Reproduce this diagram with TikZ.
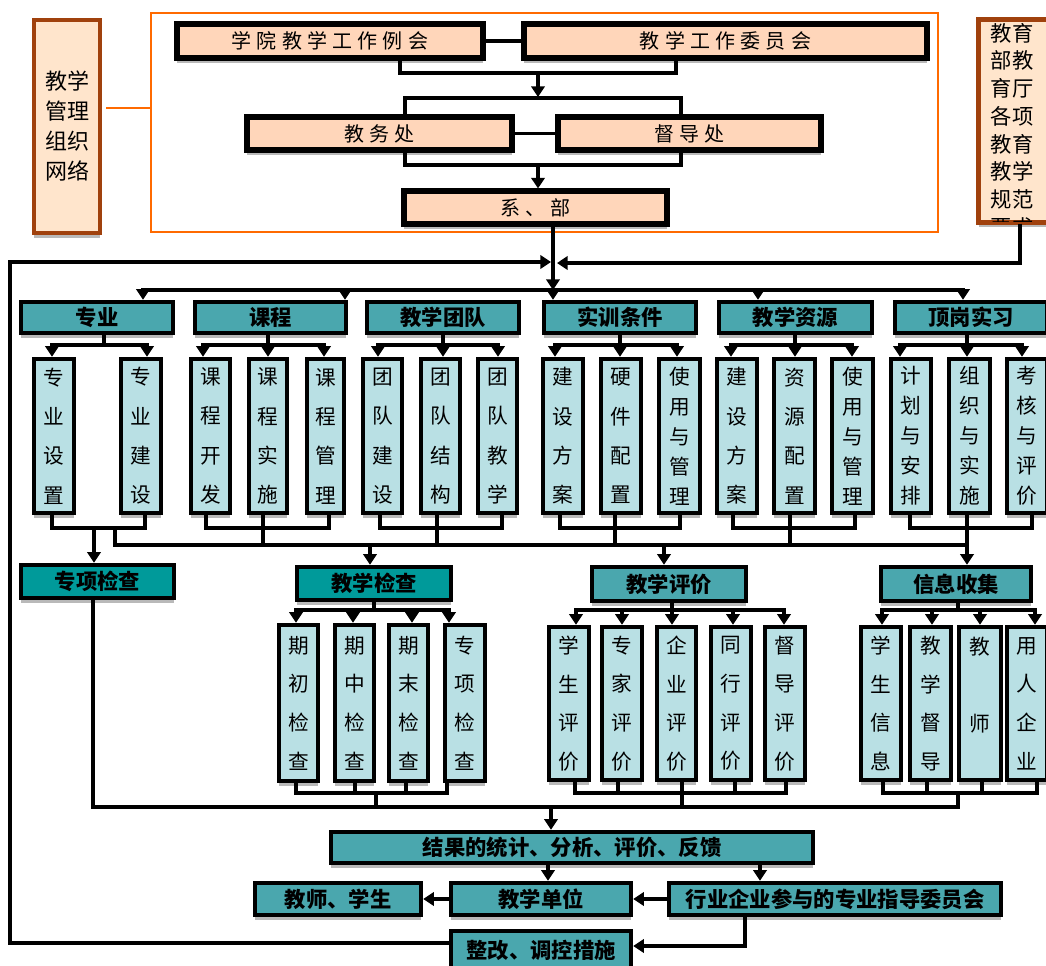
\documentclass[tikz,border=0pt]{standalone}
\usepackage{fontspec}
\setmainfont{Noto Sans CJK SC}
\newfontfamily\spfont{Noto Sans CJK SC}[LetterSpace=26]
\usetikzlibrary{arrows.meta,shadows}
\definecolor{peach}{HTML}{FFD6BA}
\definecolor{cream}{HTML}{FFE5CC}
\definecolor{brownb}{HTML}{A0410D}
\definecolor{orangeb}{HTML}{FF6A00}
\definecolor{tealh}{HTML}{4AA7AE}
\definecolor{tealk}{HTML}{009A9A}
\definecolor{tealsub}{HTML}{B9E0E4}
\newcommand\mkbox[7]{\node[#6,minimum width={(#4-#2-4)*0.75pt},minimum height={(#5-#3-4)*0.75pt},inner sep=0pt] (#1) at ({(#2+#4)/2},{(#3+#5)/2}) {#7};}
\newcommand\low[1]{\raisebox{-2.5pt}{#1}}
\tikzset{
  shad/.style={drop shadow={shadow xshift=0pt,shadow yshift=-3.8pt,fill=gray!55,opacity=1}},
  conn/.style={draw=black,line width=2.8pt,line cap=rect},
  arr/.style={draw=black,line width=2.8pt,-{Triangle[width=10pt,length=8pt]}},
  orline/.style={draw=orangeb,line width=1.7pt},
  orframe/.style={draw=orangeb,line width=1.7pt},
  brownbox/.style={draw=brownb,line width=2.6pt,fill=cream,shad,align=center,font=\fontsize{16.5}{22.5}\selectfont},
  peachbox/.style={draw=black,line width=3.8pt,fill=peach,shad,font=\spfont\fontsize{15}{18}\selectfont},
  hdr/.style={draw=black,line width=3.3pt,fill=tealh,shad,font=\bfseries\fontsize{16}{18}\selectfont},
  hdrk/.style={hdr,fill=tealk},
  sub4/.style={draw=black,line width=3.3pt,fill=tealsub,shad,align=center,font=\fontsize{15.5}{29.5}\selectfont},
  sub5/.style={sub4,font=\fontsize{15.5}{22.5}\selectfont},
  subb/.style={sub4,font=\fontsize{15.5}{29}\selectfont},
}
\begin{document}
\begin{tikzpicture}[x=0.75pt,y=-0.75pt]
\useasboundingbox (0,0) rectangle (1046,965);
% ---------- top organisation ----------
\mkbox{L}{32}{18}{102}{235}{brownbox}{教学\\管理\\组织\\网络}
\mkbox{O}{149}{11}{940}{234}{orframe}{}
\coordinate (ol) at (106,108);
\draw[orline] (ol) -- (ol -| O.west);
\mkbox{A}{175}{22}{485}{60}{peachbox}{\low{学院教学工作例会}}
\mkbox{B}{522}{22}{929}{60}{peachbox}{\low{教学工作委员会}}
\draw[conn] (A.east) -- (B.west);
\coordinate (m1) at (400,73); \coordinate (m2) at (676,73); \coordinate (m3) at (538,73); \coordinate (m4) at (538,97);
\draw[conn] (A.south -| m1) -- (m1) -- (m2) -- (B.south -| m2);
\draw[arr] (m3) -- (m4);
\mkbox{D}{245}{115}{514}{152}{peachbox}{\low{教务处}}
\mkbox{E}{556}{115}{823}{152}{peachbox}{\low{督导处}}
\draw[conn] (D.east) -- (E.west);
\coordinate (n1) at (405,98); \coordinate (n2) at (681,98);
\draw[conn] (D.north -| n1) -- (n1) -- (n2) -- (E.north -| n2);
\mkbox{F}{402}{189}{669}{226}{peachbox}{\low{系、部}}
\coordinate (p1) at (405,165); \coordinate (p2) at (681,165); \coordinate (p3) at (538,165);
\draw[conn] (D.south -| p1) -- (p1) -- (p2) -- (E.south -| p2);
\draw[arr] (p3) -- (p3 |- F.north);
\mkbox{R}{977}{18}{1062}{224}{brownbox}{}
\path[path picture={\node[inner sep=0pt,align=center,font=\fontsize{16}{20.8}\selectfont] at ([xshift=-5.6pt,yshift=-6.75pt]path picture bounding box.center) {教育\\部教\\育厅\\各项\\教育\\教学\\规范\\要求};}] (R.north west) rectangle (R.south east);
\draw[draw=brownb,line width=2.6pt] (R.north west) rectangle (R.south east);
% feedback lines into the main bus
\coordinate (r1) at (1020,263); \coordinate (r2) at (557,263);
\draw[arr] (R.south -| r1) -- (r1) -- (r2);
\coordinate (f1) at (553,290);
\draw[arr] (F.south -| f1) -- (f1);
% ---------- main bus and headers ----------
\coordinate (bL) at (143,290); \coordinate (bR) at (963,290);
\draw[conn] (bL) -- (bR);
\mkbox{H1}{19}{300}{175}{335}{hdr}{\low{专业}}
\mkbox{H2}{193}{300}{348}{335}{hdr}{\low{课程}}
\mkbox{H3}{365}{300}{521}{335}{hdr}{\low{教学团队}}
\mkbox{H4}{542}{300}{698}{335}{hdr}{\low{实训条件}}
\mkbox{H5}{717}{300}{874}{335}{hdr}{\low{教学资源}}
\mkbox{H6}{893}{300}{1049}{335}{hdr}{\low{顶岗实习}}
\foreach \x/\h in {143/H1,345/H2,553/H4,758/H5,963/H6}{
  \coordinate (t) at (\x,290);
  \draw[arr] (t) -- (t |- \h.north);
}
\foreach \g/\m/\l/\r in {1/104/52/147,2/268/203/324,3/443/378/498,4/620/555/677,5/795/731/852,6/967/900/1022}{
  \coordinate (gm) at (\m,345); \coordinate (gl) at (\l,345); \coordinate (gr) at (\r,345);
  \draw[conn] (H\g.south -| gm) -- (gm);
  \draw[conn] (gl) -- (gr);
}
% ---------- sub boxes (upper) ----------
\foreach \n/\a/\b/\ax/\bb/\t in {
  s11/32/76/52/52/{专\\业\\设\\置},
  s12/119/163/147/145/{专\\业\\建\\设},
  s21/189/232/203/206/{课\\程\\开\\发},
  s22/247/289/268/263/{课\\程\\实\\施},
  s23/305/346/324/329/{课\\程\\管\\理},
  s31/361/404/378/380/{团\\队\\建\\设},
  s32/419/462/443/437/{团\\队\\结\\构},
  s33/476/519/498/502/{团\\队\\教\\学},
  s41/541/585/555/560/{建\\设\\方\\案},
  s42/599/643/620/615/{硬\\件\\配\\置},
  s51/715/759/731/733/{建\\设\\方\\案},
  s52/772/817/795/790/{资\\源\\配\\置}}{
  \mkbox{\n}{\a}{357}{\b}{515}{sub4}{\t}
  \coordinate (ta) at (\ax,345); \draw[arr] (ta) -- (ta |- \n.north);
  \coordinate (tb) at (\bb,528); \draw[conn] (\n.south -| tb) -- (tb);
}
\foreach \n/\a/\b/\ax/\bb/\t in {
  s43/657/702/677/680/{使\\用\\与\\管\\理},
  s53/830/875/852/855/{使\\用\\与\\管\\理},
  s61/889/933/900/910/{计\\划\\与\\安\\排},
  s62/947/992/967/967/{组\\织\\与\\实\\施},
  s63/1005/1049/1022/1032/{考\\核\\与\\评\\价}}{
  \mkbox{\n}{\a}{357}{\b}{515}{sub5}{\t}
  \coordinate (ta) at (\ax,345); \draw[arr] (ta) -- (ta |- \n.north);
  \coordinate (tb) at (\bb,528); \draw[conn] (\n.south -| tb) -- (tb);
}
\foreach \l/\r/\d in {52/145/115,206/329/263,380/502/437,560/680/615,733/855/790,910/1032/967}{
  \coordinate (bl) at (\l,528); \coordinate (br) at (\r,528); \coordinate (bd) at (\d,545);
  \draw[conn] (bl) -- (br);
  \draw[conn] (bl -| bd) -- (bd);
}
\coordinate (BB1) at (115,545); \coordinate (BB2) at (967,545);
\draw[conn] (BB1) -- (BB2);
% ---------- second level ----------
\mkbox{K1}{19}{563}{176}{600}{hdrk}{\low{专项检查}}
\mkbox{K2}{295}{565}{453}{602}{hdrk}{\low{教学检查}}
\mkbox{K3}{590}{565}{748}{603}{hdr}{\low{教学评价}}
\mkbox{K4}{879}{565}{1033}{603}{hdr}{\low{信息收集}}
\coordinate (zk) at (94,528);
\draw[arr] (zk) -- (zk |- K1.north);
\foreach \x/\k in {370/K2,664/K3,967/K4}{
  \coordinate (t) at (\x,545);
  \draw[arr] (t) -- (t |- \k.north);
}
\foreach \k/\m/\l/\r in {K2/374/296/449,K3/672/576/784,K4/958/882/1035}{
  \coordinate (gm) at (\m,610); \coordinate (gl) at (\l,610); \coordinate (gr) at (\r,610);
  \draw[conn] (\k.south -| gm) -- (gm);
  \draw[conn] (gl) -- (gr);
}
\foreach \n/\a/\b/\ax/\bb/\yt/\yb/\t in {
  c1/277/320/296/296/623/783/{期\\初\\检\\查},
  c2/333/376/353/355/623/783/{期\\中\\检\\查},
  c3/387/430/412/406/623/783/{期\\末\\检\\查},
  c4/443/487/449/447/623/783/{专\\项\\检\\查},
  e1/547/591/576/575/625/782/{学\\生\\评\\价},
  e2/600/644/622/618/625/782/{专\\家\\评\\价},
  e3/655/698/672/682/625/782/{企\\业\\评\\价},
  e4/709/753/733/735/625/782/{同\\行\\评\\价},
  e5/763/807/784/786/625/782/{督\\导\\评\\价},
  i1/859/903/882/883/625/782/{学\\生\\信\\息},
  i2/908/953/932/927/625/782/{教\\学\\督\\导},
  i3/957/1003/980/982/625/782/{教\\[29pt]师\\\mbox{}},
  i4/1005/1049/1035/1037/625/782/{用\\人\\企\\业}}{
  \mkbox{\n}{\a}{\yt}{\b}{\yb}{subb}{\t}
  \coordinate (ta) at (\ax,610); \draw[arr] (ta) -- (ta |- \n.north);
  \coordinate (tb) at (\bb,793); \draw[conn] (\n.south -| tb) -- (tb);
}
\foreach \l/\r/\d in {296/447/376,575/786/682,883/1037/958}{
  \coordinate (bl) at (\l,793); \coordinate (br) at (\r,793); \coordinate (bd) at (\d,807);
  \draw[conn] (bl) -- (br);
  \draw[conn] (bl -| bd) -- (bd);
}
\coordinate (k1d) at (93,807); \coordinate (BC2) at (958,807);
\draw[conn] (K1.south -| k1d) -- (k1d) -- (BC2);
% ---------- results and feedback ----------
\mkbox{M}{329}{830}{815}{865}{hdr}{\low{结果的统计、分析、评价、反馈}}
\coordinate (q0) at (551,807);
\draw[arr] (q0) -- (q0 |- M.north);
\mkbox{N1}{253}{881}{423}{917}{hdr}{\low{教师、学生}}
\mkbox{N2}{449}{881}{633}{917}{hdr}{\low{教学单位}}
\mkbox{N3}{667}{881}{1003}{917}{hdr}{\low{行业企业参与的专业指导委员会}}
\mkbox{P}{449}{929}{633}{972}{hdr}{\low{整改、调控措施}}
\coordinate (q1) at (548,866); \coordinate (q2) at (760,866);
\draw[arr] (M.south -| q1) -- (N2.north -| q1);
\draw[arr] (M.south -| q2) -- (N3.north -| q2);
\draw[arr] (N2.west) -- (N1.east);
\draw[arr] (N3.west) -- (N2.east);
\coordinate (q3) at (745,946);
\draw[arr] (N3.south -| q3) -- (q3) -- (q3 -| P.east);
\coordinate (l1) at (10,943); \coordinate (l2) at (10,262); \coordinate (l3) at (551,262);
\draw[arr] (l1 -| P.west) -- (l1) -- (l2) -- (l3);
\end{tikzpicture}
\end{document}
